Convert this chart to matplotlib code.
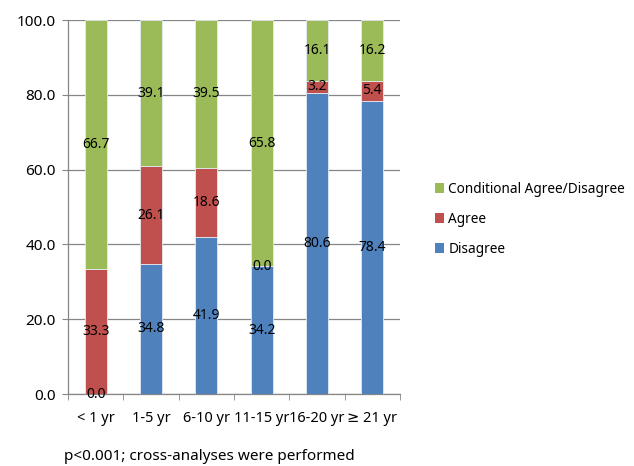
import matplotlib
matplotlib.use("Agg")
import matplotlib.pyplot as plt
import numpy as np

plt.rcParams['font.family'] = ['Noto Sans', 'DejaVu Sans']

categories = ["< 1 yr", "1-5 yr", "6-10 yr", "11-15 yr", "16-20 yr", "\u2265 21 yr"]
disagree = [0.0, 34.8, 41.9, 34.2, 80.6, 78.4]
agree = [33.3, 26.1, 18.6, 0.0, 3.2, 5.4]
conditional = [66.7, 39.1, 39.5, 65.8, 16.1, 16.2]
y_ticks = [0, 20, 40, 60, 80, 100]
footnote = "p<0.001; cross-analyses were performed"

series = [
    ("Disagree", disagree, "#4F81BD"),
    ("Agree", agree, "#C0504D"),
    ("Conditional Agree/Disagree", conditional, "#9BBB59"),
]

fig = plt.figure(figsize=(6.34, 4.66), dpi=100)
ax = fig.add_axes([68 / 634, 1 - 394 / 466, 332 / 634, 374 / 466])

x = np.arange(len(categories))
bottom = np.zeros(len(categories))
handles = []
for name, vals, color in series:
    vals = np.array(vals)
    bars = ax.bar(x, vals, width=0.4, bottom=bottom, color=color,
                  edgecolor="#e4eaf2", linewidth=0.6, label=name, zorder=3)
    handles.append(bars)
    for xi, b, v in zip(x, bottom, vals):
        ax.text(xi, b + v / 2, f"{v:.1f}", ha="center", va="center",
                fontsize=10, color="black", zorder=4)
    bottom = bottom + vals

ax.set_xlim(-0.5, len(categories) - 0.5)
ax.set_ylim(0, 100)
ax.set_yticks(y_ticks)
ax.set_yticklabels([f"{t:.1f}" for t in y_ticks], fontsize=11)
ax.set_xticks(x)
ax.set_xticklabels(categories, fontsize=10.5)
ax.tick_params(axis="x", length=0, pad=12)
ax.tick_params(axis="y", length=4, color="#868686", pad=5)
ax.set_xticks(np.arange(-0.5, len(categories)), minor=True)
ax.tick_params(axis="x", which="minor", length=4, color="#868686")

ax.yaxis.grid(True, color="#868686", linewidth=0.9, zorder=0)
for side in ["top", "right"]:
    ax.spines[side].set_visible(False)
for side in ["left", "bottom"]:
    ax.spines[side].set_color("#868686")
    ax.spines[side].set_linewidth(0.9)

leg = fig.legend(handles=handles[::-1], labels=[s[0] for s in series][::-1],
                 loc="upper left", bbox_to_anchor=(428 / 634, 1 - 175 / 466),
                 frameon=False, fontsize=9.8, handlelength=0.65, handleheight=0.65,
                 handletextpad=0.35, labelspacing=1.1, borderpad=0)
for h in leg.legend_handles:
    h.set_edgecolor("none")

fig.text(64 / 634, 1 - 456 / 466, footnote, fontsize=11, va="center", ha="left")

fig.savefig("out.png", dpi=100)
